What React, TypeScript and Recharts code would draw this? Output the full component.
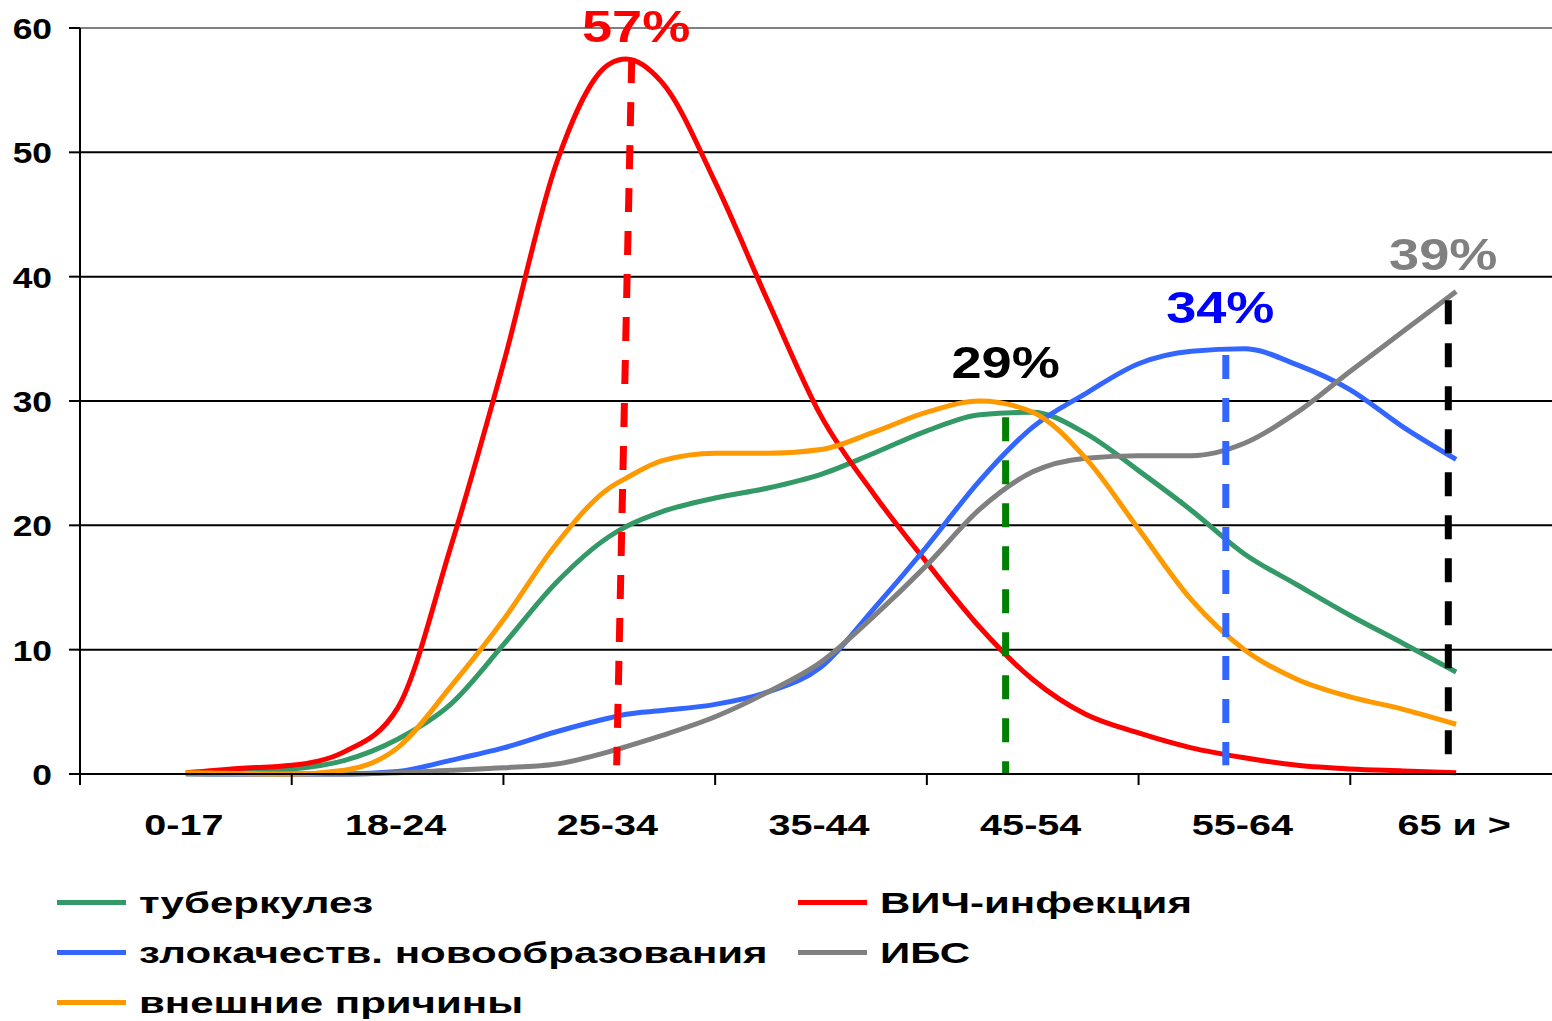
import React from "react";
import {
  LineChart,
  Line,
  XAxis,
  YAxis,
  CartesianGrid,
  ReferenceLine,
  ReferenceDot,
} from "recharts";

const ageGroups = ["0-17", "18-24", "25-34", "35-44", "45-54", "55-64", "65 и >"];

// sample positions along the age axis, in age-group units (group i spans i..i+1)
const agePos = [0.5, 0.75, 1, 1.25, 1.5, 1.75, 2, 2.25, 2.5, 2.58, 2.75, 3, 3.25, 3.5, 3.75, 4, 4.25, 4.5, 4.75, 5, 5.25, 5.5, 5.75, 6, 6.25, 6.5];

const tuberculosis = [0.1, 0.2, 0.4, 1.1, 2.8, 5.6, 10.4, 15.4, 19.1, 19.9, 21.1, 22.2, 23.0, 24.1, 25.8, 27.6, 28.9, 29.1, 27.4, 24.4, 21.2, 17.7, 15.2, 12.75, 10.5, 8.2];
const hiv = [0.1, 0.45, 0.7, 1.8, 5.3, 18.2, 33.0, 49.1, 57.1, 57.5, 55.6, 47.6, 38.0, 28.8, 22.5, 17.0, 11.8, 7.6, 4.8, 3.3, 2.1, 1.3, 0.7, 0.4, 0.25, 0.1];
const cancer = [0.05, 0, 0, 0, 0.2, 1.1, 2.1, 3.4, 4.5, 4.8, 5.1, 5.6, 6.6, 8.6, 13.3, 18.3, 23.6, 27.9, 30.6, 33.0, 34.0, 34.2, 32.9, 30.9, 27.9, 25.3];
const ihd = [0, 0, 0, 0, 0.1, 0.3, 0.5, 0.8, 1.8, 2.2, 3.1, 4.6, 6.6, 9.0, 12.7, 16.8, 21.3, 24.3, 25.4, 25.6, 25.6, 26.6, 29.1, 32.4, 35.6, 38.8];
const external = [0.1, 0.05, 0, 0.3, 2.1, 7.0, 12.4, 18.5, 23.0, 23.8, 25.2, 25.8, 25.8, 26.1, 27.5, 29.1, 30.0, 29.1, 25.4, 19.7, 14.0, 10.0, 7.6, 6.2, 5.2, 4.0];

const yTicks = [0, 10, 20, 30, 40, 50, 60];

// dashed peak markers
const markerTopX = [2.606, 4.372, 5.412, 6.463];
const markerTopY = [57.5, 28.7, 33.7, 38.1];
const markerBottomX = [2.535, 4.372, 5.412, 6.463];
const markerBottomY = [0.7, 0, 0.7, 0];
const markerColors = ["#FF0000", "#008000", "#3366FF", "#000000"];

// percentage captions
const pctText = ["57%", "29%", "34%", "39%"];
const pctX = [2.627, 4.372, 5.386, 6.439];
const pctY = [58.9, 31.83, 36.28, 40.55];
const pctColors = ["#FF0000", "#000000", "#0000FF", "#808080"];

const series = [
  { key: "tuberculosis", name: "туберкулез", color: "#339966" },
  { key: "hiv", name: "ВИЧ-инфекция", color: "#FF0000" },
  { key: "cancer", name: "злокачеств. новообразования", color: "#3366FF" },
  { key: "ihd", name: "ИБС", color: "#808080" },
  { key: "external", name: "внешние причины", color: "#FF9900" },
];

const rows = agePos.map((x, i) => ({
  x,
  tuberculosis: tuberculosis[i],
  hiv: hiv[i],
  cancer: cancer[i],
  ihd: ihd[i],
  external: external[i],
}));

const FONT = "'Liberation Sans', Arial, sans-serif";
const CHART_W = 1562;
const Y_AXIS_W = 80;
const BAND = (CHART_W - Y_AXIS_W) / ageGroups.length;

function YTick({ x, y, payload }: any) {
  return (
    <text
      transform={`translate(${x - 15},${y + 11}) scale(1.18,1)`}
      textAnchor="end"
      fontSize={30}
      fontWeight="bold"
      fontFamily={FONT}
      fill="#000"
    >
      {payload.value}
    </text>
  );
}

function XTick({ x, y, payload }: any) {
  const label = ageGroups[payload.value];
  if (!label) return <g />;
  return (
    <text
      transform={`translate(${x + BAND / 2 - 2},${y + 48}) scale(1.32,1)`}
      textAnchor="middle"
      fontSize={30}
      fontWeight="bold"
      fontFamily={FONT}
      fill="#000"
    >
      {label}
    </text>
  );
}

function pctShape(text: string, color: string) {
  return (props: any) => (
    <text
      transform={`translate(${props.cx},${props.cy}) scale(1.23,1)`}
      textAnchor="middle"
      fontSize={44}
      fontWeight="bold"
      fontFamily={FONT}
      fill={color}
    >
      {text}
    </text>
  );
}

function LegendItem({ left, top, name, color }: { left: number; top: number; name: string; color: string }) {
  return (
    <div style={{ position: "absolute", left, top, height: 30, display: "flex", alignItems: "center" }}>
      <div style={{ width: 69, height: 5, background: color, position: "relative", top: -1 }} />
      <span
        style={{
          marginLeft: 13,
          fontFamily: FONT,
          fontWeight: "bold",
          fontSize: 30,
          lineHeight: "30px",
          whiteSpace: "nowrap",
          display: "inline-block",
          transform: "scaleX(1.4)",
          transformOrigin: "left center",
        }}
      >
        {name}
      </span>
    </div>
  );
}

export default function App() {
  return (
    <div
      style={{
        position: "absolute",
        left: 0,
        top: 0,
        width: 1552,
        height: 1021,
        overflow: "hidden",
        background: "#fff",
      }}
    >
      <LineChart
        width={CHART_W}
        height={1021}
        data={rows}
        margin={{ top: 28, right: 0, left: 0, bottom: 147 }}
      >
        <CartesianGrid vertical={false} stroke="#000" strokeWidth={2} />
        <ReferenceLine y={60} stroke="#808080" strokeWidth={2} />
        <XAxis
          type="number"
          dataKey="x"
          domain={[0, 7]}
          ticks={[0, 1, 2, 3, 4, 5, 6, 7]}
          interval={0}
          height={100}
          tickSize={11}
          axisLine={{ stroke: "#000", strokeWidth: 2 }}
          tickLine={{ stroke: "#000", strokeWidth: 2 }}
          tick={XTick}
        />
        <YAxis
          domain={[0, 60]}
          ticks={yTicks}
          interval={0}
          width={Y_AXIS_W}
          tickSize={11}
          axisLine={{ stroke: "#000", strokeWidth: 2 }}
          tickLine={{ stroke: "#000", strokeWidth: 2 }}
          tick={YTick}
        />
        {series.map((s) => (
          <Line
            key={s.key}
            type="monotone"
            dataKey={s.key}
            stroke={s.color}
            strokeWidth={5}
            dot={false}
            isAnimationActive={false}
          />
        ))}
        {markerTopX.map((tx, i) => (
          <Line
            key={"m" + i}
            data={[
              { x: tx, v: markerTopY[i] },
              { x: markerBottomX[i], v: markerBottomY[i] },
            ]}
            dataKey="v"
            type="linear"
            stroke={markerColors[i]}
            strokeWidth={7}
            strokeDasharray="24 19"
            dot={false}
            isAnimationActive={false}
          />
        ))}
        {pctText.map((t, i) => (
          <ReferenceDot
            key={"p" + i}
            x={pctX[i]}
            y={pctY[i]}
            r={1}
            shape={pctShape(t, pctColors[i])}
          />
        ))}
      </LineChart>
      <LegendItem left={57} top={888} name={series[0].name} color={series[0].color} />
      <LegendItem left={57} top={938} name={series[2].name} color={series[2].color} />
      <LegendItem left={57} top={988} name={series[4].name} color={series[4].color} />
      <LegendItem left={798} top={888} name={series[1].name} color={series[1].color} />
      <LegendItem left={798} top={938} name={series[3].name} color={series[3].color} />
    </div>
  );
}
